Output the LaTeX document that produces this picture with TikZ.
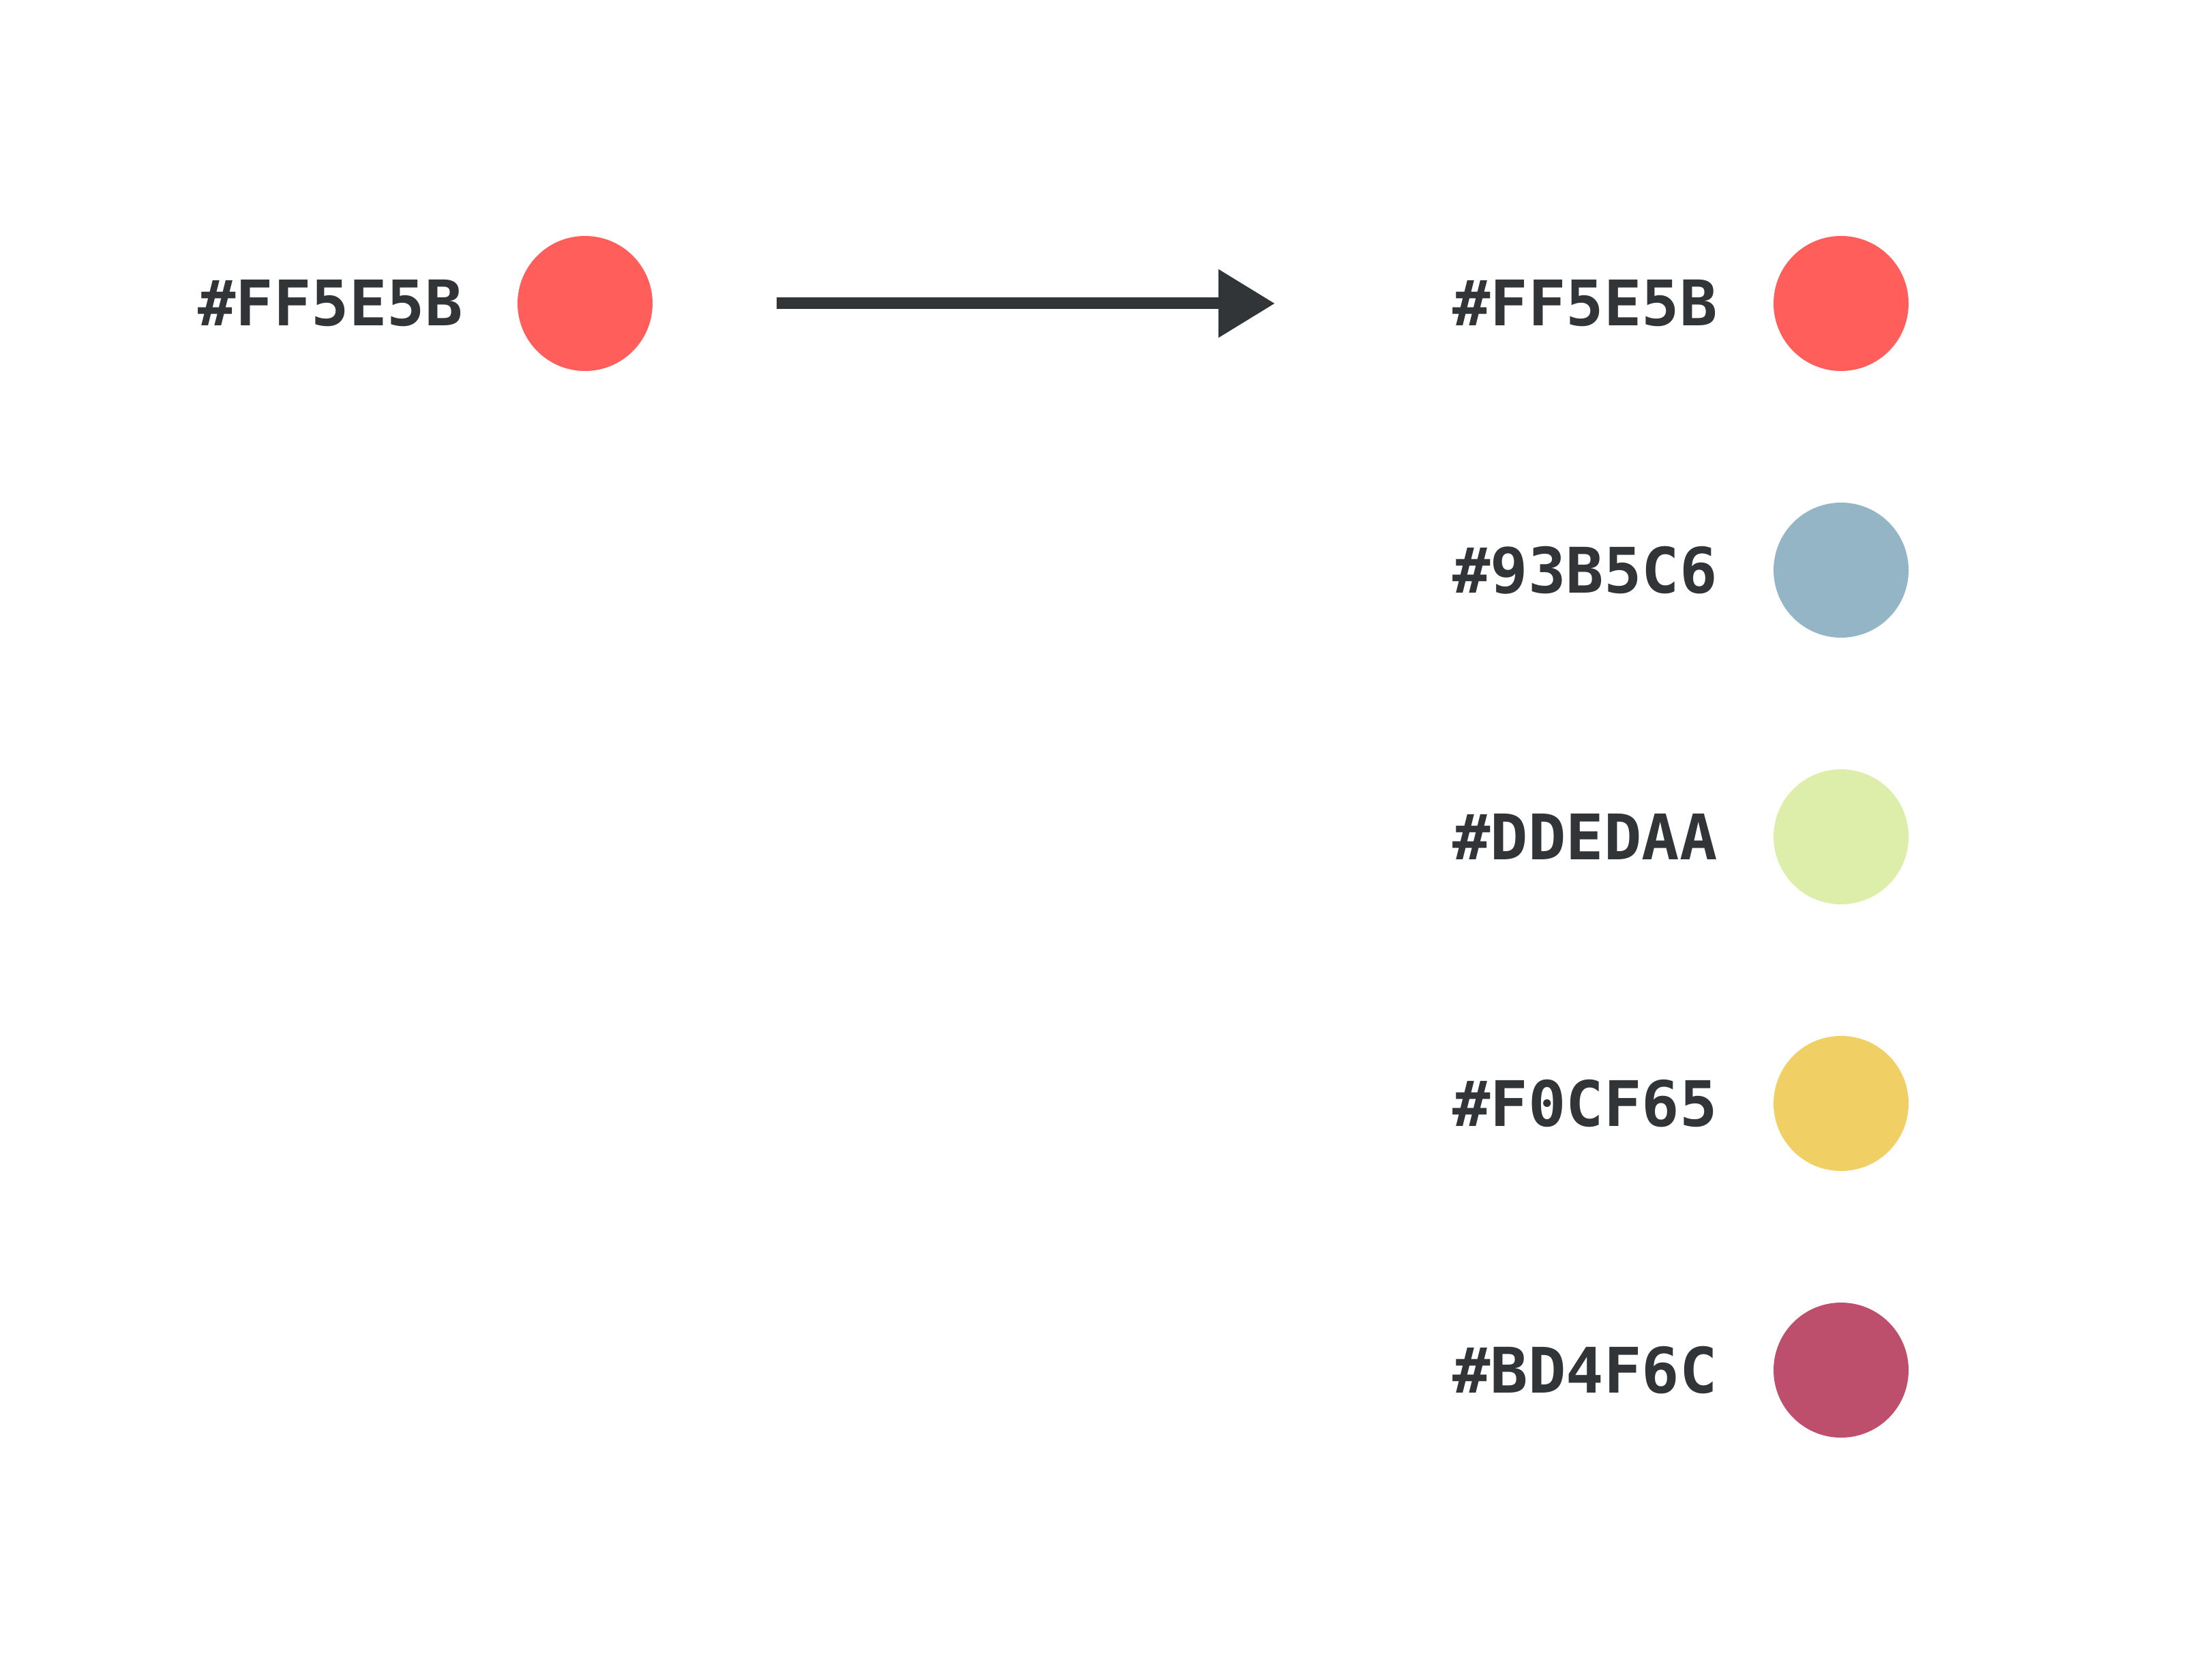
\documentclass[tikz,border=0pt]{standalone}
\usepackage{fontspec}
\setmonofont{DejaVu Sans Mono}
\usetikzlibrary{arrows.meta}

\definecolor{ink}{HTML}{313538}
\definecolor{coral}{HTML}{FF5E5B}
\definecolor{steel}{HTML}{93B5C6}
\definecolor{lime}{HTML}{DDEDAA}
\definecolor{mustard}{HTML}{F0CF65}
\definecolor{berry}{HTML}{BD4F6C}

\begin{document}
\begin{tikzpicture}[node distance=3.91cm, every node/.style={text=ink, inner sep=0pt, font=\ttfamily\bfseries\fontsize{26.2pt}{30pt}\selectfont}, dot/.style={circle, minimum size=1.98cm}]

    \useasboundingbox (0,0) rectangle (32.44,24.58);

    % Nodes
    \node[dot, fill=coral] (c0) at (8.58,20.13) {};
    \node[left of=c0, node distance=3.735cm] (l0) {\#FF5E5B};

    \node[dot, fill=coral] (c1) at (27.00,20.13) {};
    \node[dot, fill=steel, below of=c1] (c2) {};
    \node[dot, fill=lime, below of=c2] (c3) {};
    \node[dot, fill=mustard, below of=c3] (c4) {};
    \node[dot, fill=berry, below of=c4] (c5) {};

    \node[left of=c1, node distance=3.755cm] (l1) {\#FF5E5B};
    \node[left of=c2, node distance=3.755cm] (l2) {\#93B5C6};
    \node[left of=c3, node distance=3.755cm] (l3) {\#DDEDAA};
    \node[left of=c4, node distance=3.755cm] (l4) {\#F0CF65};
    \node[left of=c5, node distance=3.755cm] (l5) {\#BD4F6C};

    % Arrow
    \draw[ink, line width=0.17cm, -{Triangle[length=0.83cm, width=0.96cm]}, shorten <=1.81cm, shorten >=2.6cm] (c0.east) -- (l1.west);

\end{tikzpicture}
\end{document}
